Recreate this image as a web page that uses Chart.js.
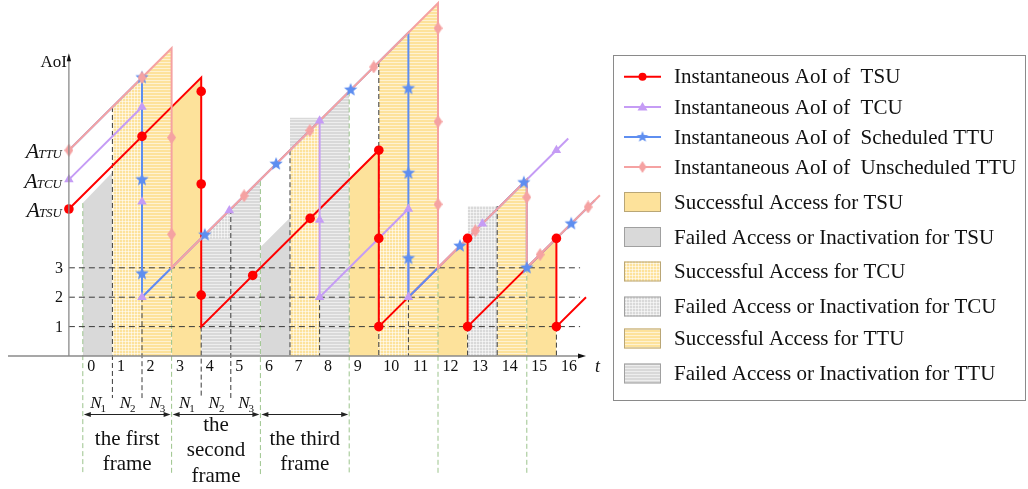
<!DOCTYPE html>
<html>
<head>
<meta charset="utf-8">
<script src="https://cdn.jsdelivr.net/npm/chart.js@4.4.1/dist/chart.umd.min.js"></script>
<style>
  html, body { margin: 0; padding: 0; background: #ffffff; }
  #wrap { width: 1028px; height: 489px; }
</style>
</head>
<body>
<div id="wrap"><canvas id="c" width="1028" height="489"></canvas></div>
<script>
// ---------- values ----------
const slotLabels = ['0','1','2','3','4','5','6','7','8','9','10','11','12','13','14','15','16'];
const levelTicks = [1, 2, 3];
const aoiAxisAt = -0.47;                 // t position of the AoI axis
const startValues = [5, 6, 7];           // A_TSU, A_TCU, A_TTU
const startSubs = ['TSU', 'TCU', 'TTU'];

// instantaneous AoI sample paths (t, AoI)
const tsuPath = [[-0.47,5],[4,9.47],[4,1],[10,7],[10,1],[13,4],[13,1],[16,4],[16,1],[17,2]];
const tcuPath = [[-0.47,6],[2,8.47],[2,2],[8,8],[8,2],[11,5],[11,2],[16.4,7.4]];
const sttuPath = [[-0.47,7],[2,9.47],[2,2],[11,11],[11,2],[15,6],[15,3],[17.3,5.3]];
const uttuPath = [[-0.47,7],[3,10.47],[3,3],[12,12],[12,3],[15,6],[15,3],[17.47,5.47]];

// marker positions along each path
const tsuMarks = [[-0.47,5],[2,7.47],[4,9.0],[4,5.85],[4,2.07],[5.74,2.74],[7.68,4.68],[10,7],[10,4],[10,1],[13,4],[13,1],[16,4],[16,1]];
const tcuMarks = [[-0.47,6],[2,8.47],[2,5.25],[2,2],[4.95,4.95],[8,8],[8,4.63],[8,2],[11,5],[11,2],[13.5,4.5],[16,7]];
const sttuMarks = [[2,9.47],[2,6.0],[2,2.8],[4.12,4.12],[6.53,6.53],[9.05,9.05],[11,9.1],[11,6.22],[11,3.32],[12.74,3.74],[14.9,5.9],[15,3],[16.5,4.5]];
const uttuMarks = [[-0.47,7],[2,9.47],[3,7.43],[3,4.14],[5.45,5.45],[7.67,7.67],[9.83,9.83],[12,11.15],[12,7.97],[12,5.16],[13.26,4.26],[15,5.4],[15.45,3.45],[17.07,5.07]];

// access outcome of each slot: [kind, upper outline] (filled down to the t axis)
const accessRegions = [
  ['tsuFail', [[0,5.2],[1,6.25]]],
  ['tcuOk',   [[1,8.47],[2,9.47]]],
  ['ttuOk',   [[2,9.47],[3,10.47]]],
  ['tsuOk',   [[3,8.47],[4,9.47]]],
  ['ttuFail', [[4,4],[6,6]]],
  ['tsuFail', [[6,3.7],[7,4.7]]],
  ['ttuFail', [[7,8.1],[8.1,8.1],[9,9]]],
  ['tcuOk',   [[7,7],[8,8]]],
  ['tsuOk',   [[9,6],[10,7]]],
  ['ttuOk',   [[10,10],[12,12]]],
  ['tcuOk',   [[10,4],[11,5]]],
  ['tsuOk',   [[12,3],[13,4]]],
  ['tcuFail', [[13,5.1],[14,5.1]]],
  ['ttuOk',   [[14,5],[15,6]]],
  ['tsuOk',   [[15,3],[16,4]]]
];
// failed TCU wedge in slot 4, filled down to AoI = 4
const tcuFailWedge = [[4,4],[5,5]];
const tcuFailWedgeBase = 4;

// dashed guides: [t, from AoI, to AoI]
const slotGuides = [[1,8.47,-1.43],[2,2,-1.43],[4,1,-1.43],[5,5,-1.43],[7,7,0],[8,2,0],[10,10,0],[11,2,0],[13,1,0],[14,5.1,0],[16,1,0]];
const frameGuides = [[0,5.2],[3,3],[6,5.95],[9,9],[12,3],[15,3]];
const frameGuideEnd = -4.05;
const levelGuideEnd = 16.8;

// frame annotation
const subSlotIdx = ['1','2','3','1','2','3'];
const frames = [[0,3],[3,6],[6,9]];
const frameText = [['the first','frame'],['the','second','frame'],['the third','frame']];

const legendLines = [
  'Instantaneous AoI of  TSU',
  'Instantaneous AoI of  TCU',
  'Instantaneous AoI of  Scheduled TTU',
  'Instantaneous AoI of  Unscheduled TTU'
];
const legendFills = [
  ['tsuOk',  'Successful Access for TSU'],
  ['tsuFail','Failed Access or Inactivation for TSU'],
  ['tcuOk',  'Successful Access for TCU'],
  ['tcuFail','Failed Access or Inactivation for TCU'],
  ['ttuOk',  'Successful Access for TTU'],
  ['ttuFail','Failed Access or Inactivation for TTU']
];

// ---------- styling ----------
const COL = { red:'#FF0000', purple:'#C59CF5', blue:'#5E8EF0', pink:'#F5A2A2', yellow:'#FDE29B', gray:'#D9D9D9' };
const SERIF = "'Liberation Serif', 'Times New Roman', serif";
const UNIT_X = 29.6, UNIT_Y = 29.4, ORIGIN_X = 82.8, ORIGIN_Y = 356;
const W = 1028, H = 489;

const canvas = document.getElementById('c');
const ctx0 = canvas.getContext('2d');

function tilePattern(base, horiz, vert) {
  const t = document.createElement('canvas');
  t.width = 3; t.height = 3;
  const g = t.getContext('2d');
  g.fillStyle = base; g.fillRect(0, 0, 3, 3);
  g.fillStyle = 'rgba(255,255,255,0.55)';
  if (horiz) g.fillRect(0, 2, 3, 1);
  if (vert) g.fillRect(2, 0, 1, 3);
  return ctx0.createPattern(t, 'repeat');
}
const FILL = {
  tsuOk: COL.yellow,
  tsuFail: COL.gray,
  tcuOk: tilePattern(COL.yellow, true, true),
  tcuFail: tilePattern(COL.gray, true, true),
  ttuOk: tilePattern(COL.yellow, true, false),
  ttuFail: tilePattern(COL.gray, true, false)
};

function starImage(R, r, color) {
  const s = Math.ceil(2 * R) + 2;
  const c = document.createElement('canvas'); c.width = s; c.height = s;
  const g = c.getContext('2d');
  g.fillStyle = color; g.beginPath();
  for (let i = 0; i < 10; i++) {
    const a = -Math.PI / 2 + i * Math.PI / 5, rr = i % 2 ? r : R;
    g.lineTo(s / 2 + rr * Math.cos(a), s / 2 + rr * Math.sin(a));
  }
  g.closePath(); g.fill();
  return c;
}
function diamondImage(w, h, color) {
  const c = document.createElement('canvas'); c.width = w; c.height = h;
  const g = c.getContext('2d');
  g.fillStyle = color; g.beginPath();
  g.moveTo(w / 2, 0); g.lineTo(w, h / 2); g.lineTo(w / 2, h); g.lineTo(0, h / 2);
  g.closePath(); g.fill();
  return c;
}
const STAR = starImage(7, 3, COL.blue);
const DIAMOND = diamondImage(9, 13, COL.pink);
const STAR_S = starImage(6, 2.6, COL.blue);
const DIAMOND_S = diamondImage(8, 12, COL.pink);

const pts = a => a.map(([x, y]) => ({ x, y }));

// ---------- datasets ----------
const datasets = [];

accessRegions.forEach(([kind, top], i) => {
  datasets.push({ data: pts(top), fill: 'origin', backgroundColor: FILL[kind],
    borderWidth: 0, pointRadius: 0, order: 200 - i });
});
datasets.push({ data: pts(tcuFailWedge), fill: { value: tcuFailWedgeBase }, backgroundColor: FILL.tcuFail,
  borderWidth: 0, pointRadius: 0, order: 150 });

frameGuides.forEach(([t, y0]) => {
  datasets.push({ data: pts([[t, y0], [t, frameGuideEnd]]), borderColor: '#9CC48C', borderWidth: 1,
    borderDash: [5, 3], pointRadius: 0, fill: false, order: 60 });
});
slotGuides.forEach(([t, y0, y1]) => {
  datasets.push({ data: pts([[t, y0], [t, y1]]), borderColor: '#3a3a3a', borderWidth: 1,
    borderDash: [5, 3], pointRadius: 0, fill: false, order: 55 });
});
levelTicks.forEach(v => {
  datasets.push({ data: pts([[aoiAxisAt, v], [levelGuideEnd, v]]), borderColor: '#3a3a3a', borderWidth: 1,
    borderDash: [6, 4], pointRadius: 0, fill: false, order: 55 });
});

// series lines (red lowest, unscheduled TTU on top)
[[tsuPath, COL.red, 14], [tcuPath, COL.purple, 13], [sttuPath, COL.blue, 12], [uttuPath, COL.pink, 11]]
  .forEach(([p, c, o]) => {
    datasets.push({ data: pts(p), borderColor: c, borderWidth: 2, pointRadius: 0, fill: false, order: o });
  });

// markers
datasets.push({ data: pts(tsuMarks), showLine: false, pointStyle: 'circle', pointRadius: 4.8,
  backgroundColor: COL.red, borderWidth: 0, order: 4 });
datasets.push({ data: pts(tcuMarks), showLine: false, pointStyle: 'triangle', pointRadius: 5.5,
  backgroundColor: COL.purple, borderWidth: 0, order: 3 });
datasets.push({ data: pts(sttuMarks), showLine: false, pointStyle: STAR, pointRadius: 6,
  backgroundColor: COL.blue, borderWidth: 0, order: 2 });
datasets.push({ data: pts(uttuMarks), showLine: false, pointStyle: DIAMOND, pointRadius: 6,
  backgroundColor: COL.pink, borderWidth: 0, order: 1 });

// ---------- axes, labels and legend ----------
function arrowHead(c, x, y, dir, len, half) {
  c.beginPath();
  if (dir === 'right') { c.moveTo(x, y); c.lineTo(x - len, y - half); c.lineTo(x - len, y + half); }
  if (dir === 'left')  { c.moveTo(x, y); c.lineTo(x + len, y - half); c.lineTo(x + len, y + half); }
  if (dir === 'up')    { c.moveTo(x, y); c.lineTo(x - half, y + len); c.lineTo(x + half, y + len); }
  c.closePath(); c.fill();
}

const decor = {
  id: 'decor',
  afterDatasetsDraw(chart) {
    const c = chart.ctx;
    const X = v => chart.scales.x.getPixelForValue(v);
    const Y = v => chart.scales.y.getPixelForValue(v);
    const ax = X(aoiAxisAt), ay = Y(0);
    c.save();

    // axes
    c.strokeStyle = '#8a8a8a'; c.lineWidth = 1.3;
    c.beginPath(); c.moveTo(8, ay); c.lineTo(X(17) - 4, ay); c.stroke();
    c.beginPath(); c.moveTo(ax, ay); c.lineTo(ax, Y(10.3) + 4); c.stroke();
    c.fillStyle = '#111';
    arrowHead(c, X(17), ay, 'right', 8, 2.6);
    arrowHead(c, ax, Y(10.3), 'up', 8, 2.2);

    // axis titles
    c.fillStyle = '#111'; c.textBaseline = 'middle';
    c.font = '17px ' + SERIF; c.textAlign = 'right';
    c.fillText('AoI', ax - 2, 63);
    c.font = 'italic 18px ' + SERIF; c.textAlign = 'left';
    c.fillText('t', X(17) + 9, ay + 11);

    // slot numbers
    c.font = '16px ' + SERIF; c.textAlign = 'left';
    slotLabels.forEach((s, k) => c.fillText(s, X(k) + 4.5, ay + 11));

    // level ticks
    c.textAlign = 'right';
    levelTicks.forEach(v => c.fillText(String(v), ax - 6, Y(v) + 1));

    // initial AoI labels
    startValues.forEach((v, i) => {
      const base = Y(v) + 8;
      c.textBaseline = 'alphabetic';
      c.font = 'italic 13px ' + SERIF;
      const sw = c.measureText(startSubs[i]).width;
      c.textAlign = 'right';
      c.fillText(startSubs[i], 62, base);
      c.font = 'italic 22px ' + SERIF;
      c.fillText('A', 62 - sw + 1, base);
    });

    // sub-slot names N1..N3
    c.textBaseline = 'alphabetic';
    subSlotIdx.forEach((d, k) => {
      c.font = 'italic 17px ' + SERIF;
      const nw = c.measureText('N').width;
      c.font = '11px ' + SERIF;
      const dw = c.measureText(d).width;
      const x0 = X(k + 0.5) - (nw + dw) / 2 + 1;
      c.textAlign = 'left';
      c.font = 'italic 17px ' + SERIF; c.fillText('N', x0, 408);
      c.font = '11px ' + SERIF; c.fillText(d, x0 + nw - 1, 412);
    });

    // frame spans
    c.strokeStyle = '#222'; c.fillStyle = '#222'; c.lineWidth = 1;
    frames.forEach(([a, b], i) => {
      const xa = X(a) + 1, xb = X(b) - 1, yy = 414.5;
      c.beginPath(); c.moveTo(xa + 4, yy); c.lineTo(xb - 4, yy); c.stroke();
      arrowHead(c, xa, yy, 'left', 7, 2.4);
      arrowHead(c, xb, yy, 'right', 7, 2.4);
      const lines = frameText[i];
      const y0 = lines.length === 3 ? 425 : 439;
      c.font = '21px ' + SERIF; c.textAlign = 'center'; c.textBaseline = 'middle';
      c.fillStyle = '#111';
      lines.forEach((s, j) => c.fillText(s, X((a + b) / 2), y0 + j * 25.5));
      c.fillStyle = '#222';
    });

    // legend
    c.strokeStyle = '#8a8a8a'; c.lineWidth = 1;
    c.strokeRect(613.5, 55.5, 412, 345);
    const rowY = [76.7, 107, 137, 167, 202, 237, 271.5, 306.5, 338.5, 373.5];
    const lineCols = [COL.red, COL.purple, COL.blue, COL.pink];
    c.font = '21px ' + SERIF; c.textBaseline = 'middle'; c.textAlign = 'left';
    legendLines.forEach((s, i) => {
      const y = rowY[i];
      c.strokeStyle = lineCols[i]; c.lineWidth = 2;
      c.beginPath(); c.moveTo(624, y); c.lineTo(661, y); c.stroke();
      c.fillStyle = lineCols[i];
      const mx = 642.5;
      if (i === 0) { c.beginPath(); c.arc(mx, y, 4, 0, Math.PI * 2); c.fill(); }
      if (i === 1) { c.beginPath(); c.moveTo(mx, y - 5); c.lineTo(mx + 5, y + 3.5); c.lineTo(mx - 5, y + 3.5); c.closePath(); c.fill(); }
      if (i === 2) c.drawImage(STAR_S, mx - STAR_S.width / 2, y - STAR_S.height / 2);
      if (i === 3) c.drawImage(DIAMOND_S, mx - DIAMOND_S.width / 2, y - DIAMOND_S.height / 2);
      c.fillStyle = '#111';
      c.fillText(s, 674, y + 1);
    });
    legendFills.forEach(([kind, s], j) => {
      const y = rowY[4 + j];
      c.fillStyle = FILL[kind];
      c.fillRect(624, y - 10, 37, 20);
      c.strokeStyle = kind.endsWith('Ok') ? '#b9a676' : '#a0a0a0';
      c.lineWidth = 1;
      c.strokeRect(624.5, y - 9.5, 36, 19);
      c.fillStyle = '#111';
      c.fillText(s, 674, y + 1);
    });

    c.restore();
  }
};

new Chart(canvas, {
  type: 'line',
  data: { datasets },
  options: {
    responsive: false,
    animation: false,
    events: [],
    layout: { padding: 0, autoPadding: false },
    scales: {
      x: { type: 'linear', display: false, min: -ORIGIN_X / UNIT_X, max: (W - ORIGIN_X) / UNIT_X },
      y: { type: 'linear', display: false, min: (ORIGIN_Y - H) / UNIT_Y, max: ORIGIN_Y / UNIT_Y }
    },
    plugins: { legend: { display: false }, tooltip: { enabled: false } },
    elements: { line: { tension: 0 } }
  },
  plugins: [decor]
});
</script>
</body>
</html>
